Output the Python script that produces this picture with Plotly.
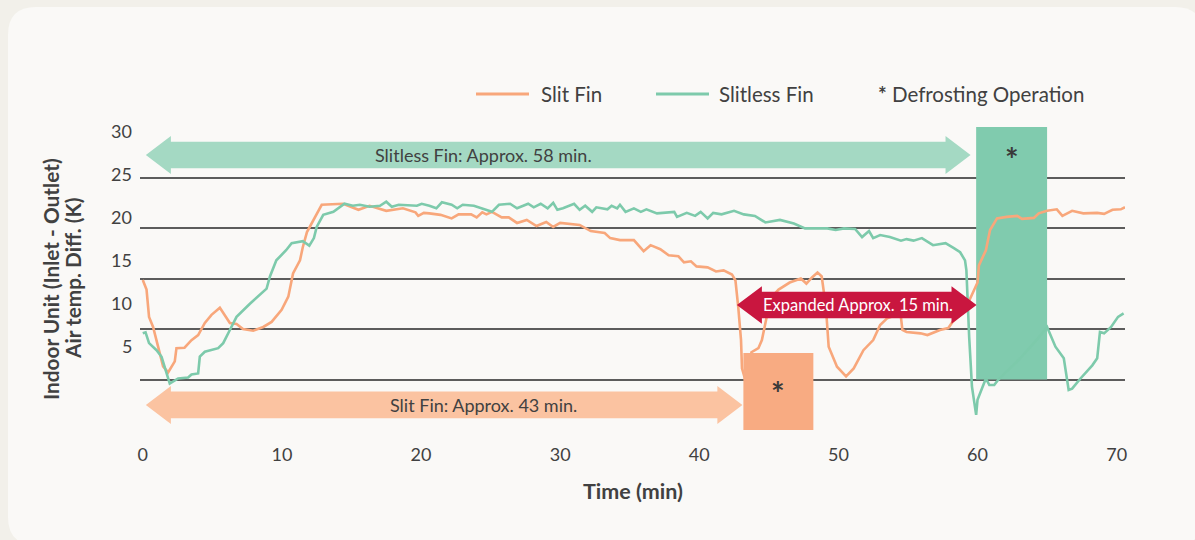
import plotly.graph_objects as go

# ---------------- data ----------------
slit_t = [0, 0.27, 0.45, 0.74, 1.1, 1.46, 1.82, 2.3, 2.42, 3.0, 3.5, 3.98, 4.46, 4.94, 5.54, 6.26, 6.74, 7.2,
          7.94, 8.66, 9.26, 9.55, 9.98, 10.46, 10.8, 11.3, 11.5, 11.8, 12.4, 12.86, 14.4, 15.5, 16.3, 17.5, 18.7,
          19.6, 19.8, 20.2, 20.6, 21.4, 22.2, 22.7, 23.6, 24.0, 24.4, 24.7, 25.1, 25.8, 26.3, 26.9, 27.6, 28.3,
          29.0, 29.5, 30.0, 31.4, 32.2, 33.2, 33.6, 34.3, 35.3, 36.0, 36.5, 37.2, 37.8, 38.5, 38.9, 39.4, 39.8,
          40.6, 41.2, 41.75, 42.35, 42.6, 42.8, 43.0, 43.07, 43.3, 43.6, 43.75, 44.25, 44.5, 44.8, 45.1, 45.7,
          46.5, 47.3, 47.7, 48.1, 48.5, 48.8, 49.1, 49.3, 49.9, 50.55, 51.1, 51.8, 52.5, 53.0, 53.5, 54.2, 54.45,
          54.6, 54.9, 55.9, 56.4, 57.3, 57.9, 58.2, 59.0, 59.4, 59.9, 60.0, 60.1, 60.6, 60.9, 61.4, 62.1, 62.85,
          63.2, 64.05, 64.4, 65.0, 65.7, 66.1, 66.8, 67.6, 68.6, 69.1, 69.7, 70.3, 70.6]
slit_v = [14.85, 13.9, 11.2, 10.2, 8.25, 6.3, 5.7, 6.8, 8.1, 8.15, 8.9, 9.4, 10.6, 11.4, 12.1, 10.6, 10.5, 10.0,
          9.83, 10.2, 10.7, 11.2, 11.9, 13.2, 15.5, 16.8, 18.1, 19.6, 21.1, 22.3, 22.4, 21.8, 22.2, 21.7, 21.95,
          21.55, 21.2, 21.5, 21.45, 21.3, 20.95, 21.35, 21.35, 21.05, 21.55, 21.35, 21.6, 21.05, 21.05, 20.5, 20.8,
          20.2, 20.6, 20.1, 20.5, 20.3, 19.7, 19.5, 19.0, 18.8, 18.8, 17.7, 18.3, 17.9, 17.3, 17.2, 16.6, 16.7,
          16.2, 16.1, 15.7, 15.8, 15.4, 14.8, 12.2, 8.9, 6.1, 5.0, 6.5, 7.7, 8.1, 8.9, 10.9, 13.0, 13.9, 14.6,
          15.0, 14.5, 15.1, 15.6, 15.2, 12.2, 8.25, 6.27, 5.3, 6.1, 7.9, 8.9, 10.4, 11.05, 11.4, 11.7, 9.9, 9.7,
          9.57, 9.4, 9.9, 10.1, 10.7, 11.7, 12.8, 14.3, 14.6, 16.3, 17.8, 19.8, 20.95, 21.1, 21.2, 20.9, 21.0,
          21.45, 21.7, 21.85, 21.2, 21.7, 21.45, 21.5, 21.4, 21.8, 21.85, 22.05]

slitless_t = [0, 0.2, 0.45, 0.99, 1.35, 1.94, 2.54, 3.26, 3.5, 3.98, 4.1, 4.46, 5.42, 5.78, 6.26, 6.74, 7.7, 8.9,
              9.14, 9.6, 10.3, 10.7, 11.5, 11.97, 12.3, 12.5, 12.97, 13.7, 14.5, 15.1, 15.6, 16.3, 17.05, 17.5,
              17.9, 18.4, 19.7, 20.05, 20.6, 21.1, 21.5, 22.2, 22.6, 23.0, 23.8, 24.7, 25.1, 25.6, 26.4, 26.9,
              27.7, 28.1, 28.6, 29.1, 29.5, 29.8, 30.2, 31.0, 31.4, 31.8, 32.3, 32.6, 33.4, 33.7, 34.1, 34.3,
              34.7, 35.3, 35.8, 36.2, 36.96, 38.2, 38.4, 39.1, 39.7, 40.1, 40.6, 41.0, 41.6, 42.5, 43.2, 44.0,
              44.75, 45.8, 46.8, 47.6, 49.2, 49.8, 50.4, 51.2, 51.7, 52.2, 52.5, 53.0, 53.7, 54.5, 54.9, 55.4,
              56.0, 56.8, 57.7, 58.3, 58.75, 59.1, 59.2, 59.4, 59.6, 59.9, 60.0, 60.6, 60.85, 61.2, 61.5, 63.0,
              64.3, 65.0, 65.6, 66.2, 66.55, 66.8, 67.4, 68.25, 68.6, 68.8, 69.1, 69.6, 70.1, 70.5]
slitless_v = [9.57, 9.67, 8.6, 7.9, 7.25, 4.6, 5.1, 5.2, 5.5, 5.6, 7.26, 7.75, 8.1, 8.6, 9.9, 11.2, 12.5, 14.0,
              15.2, 16.8, 17.8, 18.5, 18.7, 18.25, 19.0, 20.1, 21.3, 21.6, 22.4, 22.2, 22.3, 22.1, 22.2, 22.6,
              22.1, 22.3, 22.2, 22.4, 22.2, 21.95, 22.55, 22.3, 21.95, 22.3, 22.2, 21.8, 21.6, 22.3, 22.4, 21.95,
              22.4, 22.05, 22.4, 21.95, 22.5, 21.8, 21.95, 22.4, 21.8, 22.2, 21.6, 22.05, 21.85, 22.2, 21.95, 22.3,
              21.6, 21.95, 21.6, 21.85, 21.45, 21.6, 21.1, 21.5, 21.2, 21.6, 20.95, 21.5, 21.35, 21.7, 21.35, 21.2,
              20.55, 20.8, 20.45, 19.96, 19.96, 19.8, 19.96, 19.9, 19.1, 19.7, 19.0, 19.3, 19.1, 18.75, 18.9, 18.75,
              19.0, 18.3, 18.5, 18.0, 17.6, 16.8, 15.8, 9.2, 4.3, 1.5, 3.0, 5.1, 4.45, 4.45, 5.0, 7.0,
              9.0, 10.2, 8.25, 7.1, 3.96, 4.1, 5.1, 6.4, 7.1, 9.7, 9.57, 10.2, 11.2, 11.55]

x_ticks = [0, 10, 20, 30, 40, 50, 60, 70]
y_grid = [5, 10, 15, 20, 25]
y_labels = [5, 10, 15, 20, 25, 30]

series_names = ["Slit Fin", "Slitless Fin"]
arrow_texts = ["Slitless Fin: Approx. 58 min.", "Slit Fin: Approx. 43 min.", "Expanded Approx. 15 min."]
legend_note = "<b>*</b> Defrosting Operation"
y_title_lines = ["Indoor Unit (Inlet - Outlet)", "Air temp. Diff. (K)"]
x_title = "Time (min)"

# ---------------- style ----------------
ORANGE = "#f8a77b"
GREEN = "#7dcaab"
ORANGE_BOX = "#f8ab82"
GREEN_BOX = "#80cbae"
ORANGE_ARROW = "#fbc3a1"
GREEN_ARROW = "#a4d9c3"
RED = "#c9163f"
TXT = "#414141"
FONT = "Lato"

W, H = 1195, 540
L, R, T, B = 140, 1125, 127, 430


def px(xp):
    return (xp - L) / (R - L)


def py(yp):
    return (B - yp) / (B - T)


fig = go.Figure()
fig.add_trace(go.Scatter(x=slit_t, y=slit_v, mode="lines", name=series_names[0],
                         line=dict(color=ORANGE, width=2.6), showlegend=False))
fig.add_trace(go.Scatter(x=slitless_t, y=slitless_v, mode="lines", name=series_names[1],
                         line=dict(color=GREEN, width=2.6), showlegend=False))


def arrow_path(x0, x1, yc, bh=1.32, hh=1.88, hl=1.8):
    pts = [(x0, yc), (x0 + hl, yc + hh), (x0 + hl, yc + bh), (x1 - hl, yc + bh), (x1 - hl, yc + hh),
           (x1, yc), (x1 - hl, yc - hh), (x1 - hl, yc - bh), (x0 + hl, yc - bh), (x0 + hl, yc - hh)]
    return "M " + " L ".join(f"{a},{b}" for a, b in pts) + " Z"


shapes = []
# card background (rounded)
cx0, cy0, cx1, cy1, rr = 8, 7, 1203, 545, 28


def P(a, b):
    return f"{px(a)},{py(b)}"


card = (f"M {P(cx0 + rr, cy0)} L {P(cx1 - rr, cy0)} Q {P(cx1, cy0)} {P(cx1, cy0 + rr)} "
        f"L {P(cx1, cy1 - rr)} Q {P(cx1, cy1)} {P(cx1 - rr, cy1)} L {P(cx0 + rr, cy1)} "
        f"Q {P(cx0, cy1)} {P(cx0, cy1 - rr)} L {P(cx0, cy0 + rr)} Q {P(cx0, cy0)} {P(cx0 + rr, cy0)} Z")
shapes.append(dict(type="path", path=card, xref="paper", yref="paper", fillcolor="#faf9f7",
                   line=dict(width=0), layer="below"))

# defrost boxes
shapes.append(dict(type="rect", x0=59.9, x1=65.0, y0=5, y1=30, xref="x", yref="y",
                   fillcolor=GREEN_BOX, line=dict(width=0), layer="between"))
shapes.append(dict(type="rect", x0=43.17, x1=48.2, y0=0, y1=7.62, xref="x", yref="y",
                   fillcolor=ORANGE_BOX, line=dict(width=0), layer="above"))
# arrows
shapes.append(dict(type="path", path=arrow_path(0.22, 59.5, 27.23), xref="x", yref="y",
                   fillcolor=GREEN_ARROW, line=dict(width=0), layer="above"))
shapes.append(dict(type="path", path=arrow_path(0.22, 43.1, 2.48), xref="x", yref="y",
                   fillcolor=ORANGE_ARROW, line=dict(width=0), layer="above"))
shapes.append(dict(type="path", path=arrow_path(42.7, 59.93, 12.38, 1.32, 1.85, 1.8), xref="x", yref="y",
                   fillcolor=RED, line=dict(width=0), layer="above"))
# legend swatches
shapes.append(dict(type="line", x0=px(476), x1=px(529), y0=py(94), y1=py(94), xref="paper", yref="paper",
                   line=dict(color=ORANGE, width=3)))
shapes.append(dict(type="line", x0=px(656), x1=px(709), y0=py(94), y1=py(94), xref="paper", yref="paper",
                   line=dict(color=GREEN, width=3)))

ann = []
LEG = 20.5


def note(text, x, y, size, color=TXT, xanchor="center", xref="paper", yref="paper", angle=0):
    return dict(text=text, x=x, y=y, xref=xref, yref=yref, xanchor=xanchor, yanchor="middle",
                showarrow=False, textangle=angle, font=dict(size=size, color=color, family=FONT))


ann.append(note(series_names[0], px(539), py(94), LEG, xanchor="left"))
ann.append(note(series_names[1], px(717), py(94), LEG, xanchor="left"))
ann.append(note(legend_note, px(876), py(94), LEG, xanchor="left"))
# arrow texts
ann.append(note(arrow_texts[0], 24.46, 27.23, 18, xref="x", yref="y"))
ann.append(note(arrow_texts[1], 24.46, 2.48, 18, xref="x", yref="y"))
ann.append(note(arrow_texts[2], 51.4, 12.38, 16.5, color="white", xref="x", yref="y"))
# stars
ann.append(note("<b>*</b>", 45.68, 3.6, 32, color="#3a3a3a", xref="x", yref="y"))
ann.append(note("<b>*</b>", 62.45, 26.8, 32, color="#3a3a3a", xref="x", yref="y"))
# y tick labels (placed as in the original, on their own even spacing)
for v in y_labels:
    ypix = 130.7 + (30 - v) * 8.6
    ann.append(note(str(v), px(134), py(ypix), 18, xanchor="right"))
# axis titles
ann.append(note(f"<b>{y_title_lines[0]}</b>", px(50), py(279), 20.8, angle=-90))
ann.append(note(f"<b>{y_title_lines[1]}</b>", px(72), py(279), 20.8, angle=-90))
ann.append(note(f"<b>{x_title}</b>", px(633), py(491), 21.5))

fig.update_layout(
    width=W, height=H,
    margin=dict(l=L, r=W - R, t=T, b=H - B, pad=0),
    paper_bgcolor="#f2f0ea",
    plot_bgcolor="rgba(0,0,0,0)",
    shapes=shapes, annotations=ann,
    showlegend=False,
    font=dict(family=FONT, color=TXT),
    xaxis=dict(range=[-0.2, 70.6], tickvals=x_ticks, showgrid=False, zeroline=False, showline=False,
               ticks="", ticklabelstandoff=12, tickfont=dict(size=18, color=TXT, family=FONT)),
    yaxis=dict(range=[0, 30], tickvals=y_grid, showgrid=True, gridcolor="#5c5c5c", gridwidth=1.6,
               zeroline=False, showline=False, showticklabels=False, ticks=""),
)

fig.write_html("out.html", config={"displayModeBar": False},
               post_script="document.body.style.margin='0';document.body.style.overflow='hidden';")
